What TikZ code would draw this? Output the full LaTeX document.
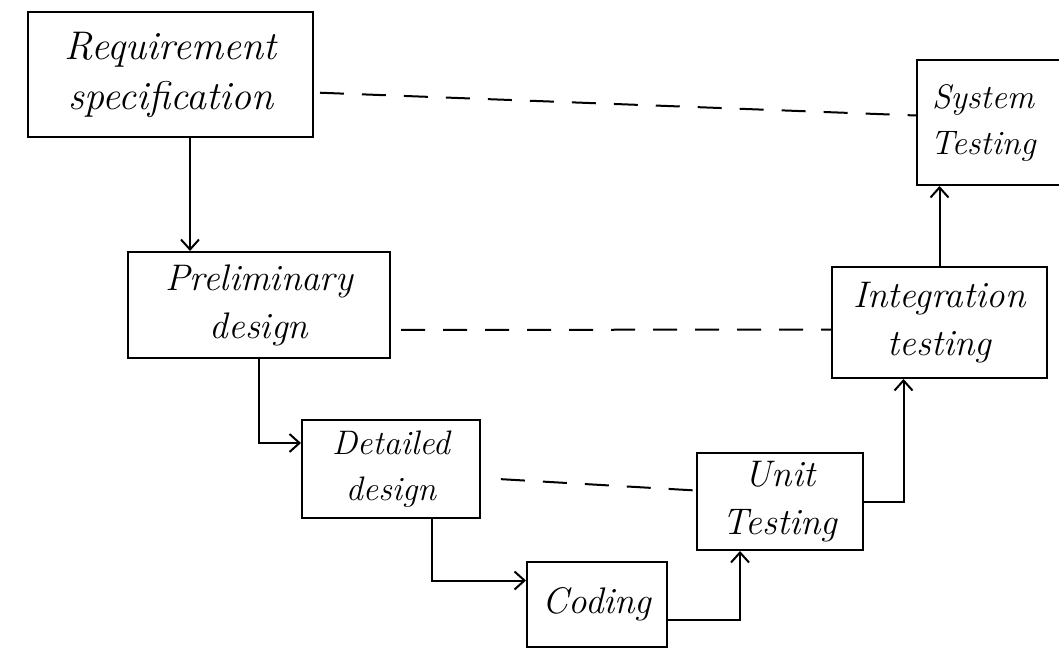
\documentclass[tikz,border=0pt]{standalone}
\usetikzlibrary{arrows.meta}
\begin{document}
\begin{tikzpicture}[x=1pt,y=-1pt,
  box/.style={draw,line width=2pt,inner sep=0pt,align=center,font=\itshape\fontsize{37}{48}\selectfont},
  arr/.style={line width=2pt,-{Straight Barb[length=10pt,width=18pt,line width=2pt]}},
  dsh/.style={line width=2pt,dash pattern=on 24pt off 18pt}]
\useasboundingbox (0,0) rectangle (1059,658);
\clip (0,0) rectangle (1059,658);
\fill[white] (0,0) rectangle (1059,658);
\node[box,minimum width=285pt,minimum height=125pt,font=\itshape\fontsize{40}{50}\selectfont] (req) at (170.5,74.5) {Requirement\\specification};
\node[box,minimum width=262pt,minimum height=106pt] (prelim) at (259,305) {Preliminary\\design};
\node[box,minimum width=178pt,minimum height=98pt,font=\itshape\fontsize{34}{46}\selectfont] (det) at (391,469) {Detailed\\design};
\node[box,minimum width=140pt,minimum height=85pt] (coding) at (597,604.5) {Coding};
\node[box,minimum width=166pt,minimum height=97pt] (unit) at (780,501.5) {Unit\\Testing};
\node[box,minimum width=215pt,minimum height=111pt] (int) at (939.5,322.5) {Integration\\testing};
\node[box,minimum width=160pt,minimum height=125pt,font=\itshape\fontsize{34}{46}\selectfont] (sys) at (997,122.5) {System\hspace*{28pt}\\Testing\hspace*{28pt}};
\draw[arr] (req.south -| 190,0) -- (prelim.north -| 190,0);
\draw[arr] (prelim.south) |- ([yshift=26pt]det.west);
\draw[arr] ([xshift=41pt]det.south) |- ([yshift=24pt]coding.west);
\draw[arr] ([yshift=-15pt]coding.east) -| ([xshift=-40pt]unit.south);
\draw[arr] (unit.east) -| ([xshift=-36pt]int.south);
\draw[arr] (int.north) -- (int.north |- sys.south);
\draw[dsh,shorten <=6pt] ([yshift=-18pt]req.east) -- ([yshift=7pt]sys.west);
\draw[dsh,shorten <=10pt] ([yshift=-25pt]prelim.east) -- ([yshift=-7pt]int.west);
\draw[dsh,shorten <=20pt] ([yshift=-9pt]det.east) -- ([yshift=11pt]unit.west);
\end{tikzpicture}
\end{document}
